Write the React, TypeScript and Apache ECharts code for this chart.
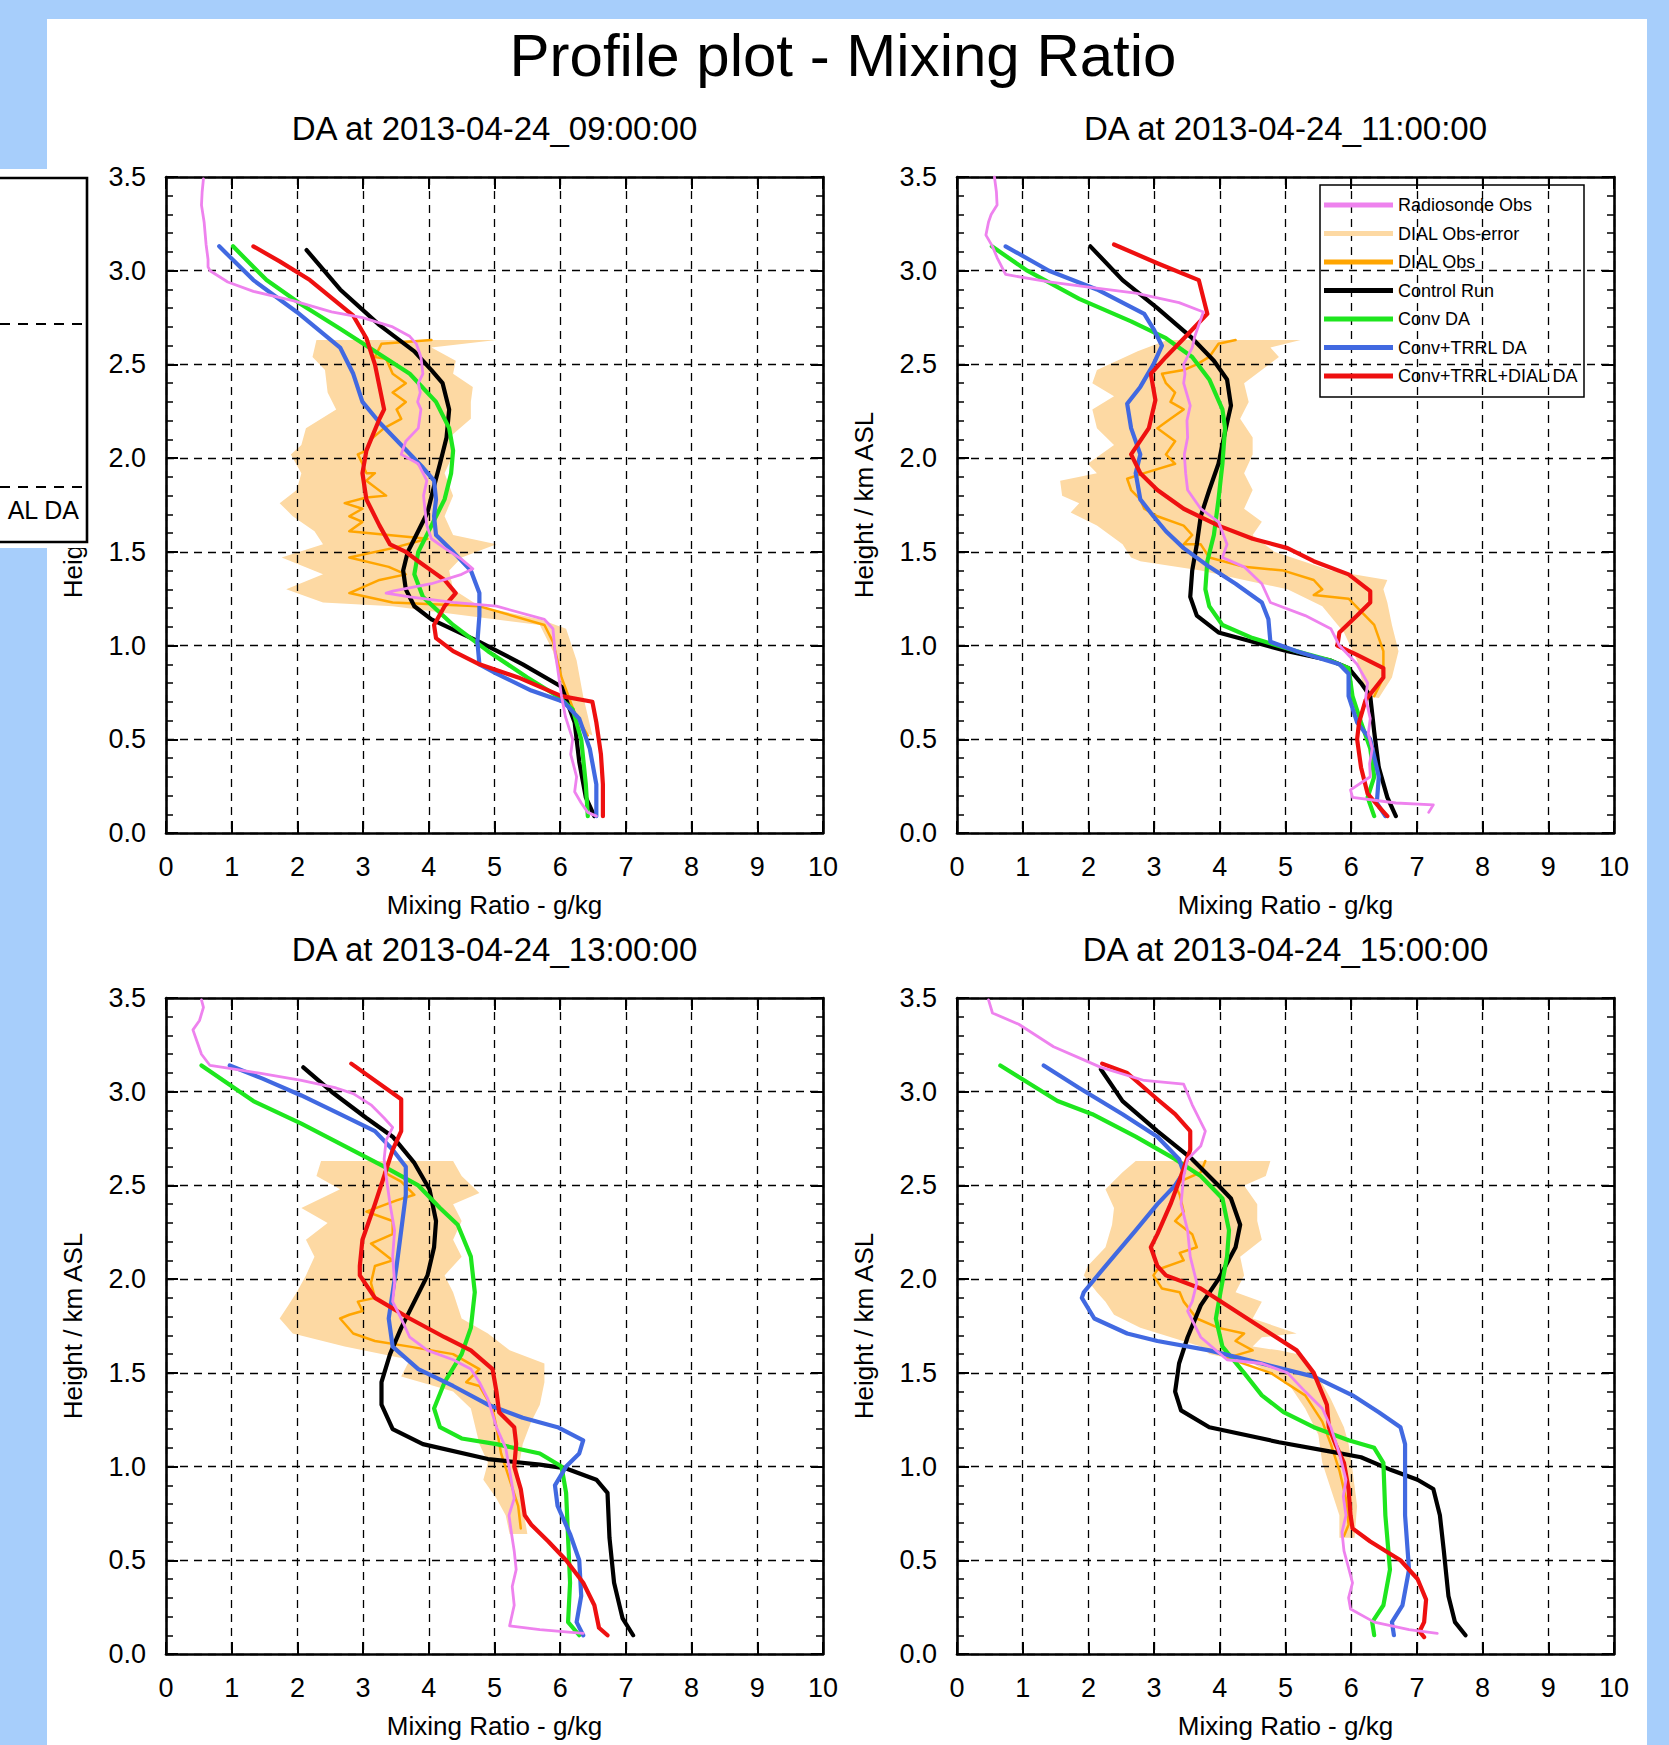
import React, { useEffect, useRef } from "react";
import * as echarts from "echarts";

const FONT = '"Liberation Sans", Arial, Helvetica, sans-serif';

const X_MIN = 0, X_MAX = 10, X_STEP = 1;
const Y_MIN = 0, Y_MAX = 3.5, Y_STEP = 0.5;

const MAIN_TITLE = "Profile plot - Mixing Ratio";
const PANEL_TITLES = [
  "DA at 2013-04-24_09:00:00",
  "DA at 2013-04-24_11:00:00",
  "DA at 2013-04-24_13:00:00",
  "DA at 2013-04-24_15:00:00",
];
const X_NAME = "Mixing Ratio - g/kg";
const Y_NAME = "Height / km ASL";
const LEGEND_NAMES = [
  "Radiosonde Obs",
  "DIAL Obs-error",
  "DIAL Obs",
  "Control Run",
  "Conv DA",
  "Conv+TRRL DA",
  "Conv+TRRL+DIAL DA",
];

// ---------- Panel 1 : 09:00 ----------
const P1_SONDE = [[0.57,3.49],[0.55,3.42],[0.54,3.35],[0.58,3.26],[0.6,3.18],[0.61,3.14],[0.64,3.06],[0.64,3.02],[0.67,3.0],[0.94,2.94],[1.33,2.89],[1.93,2.84],[2.52,2.78],[2.99,2.75],[3.45,2.7],[3.71,2.65],[3.81,2.61],[3.88,2.54],[3.91,2.45],[3.84,2.4],[3.87,2.35],[3.83,2.3],[3.88,2.26],[3.84,2.16],[3.65,2.09],[3.58,2.02],[3.84,1.97],[3.97,1.88],[3.92,1.8],[3.94,1.73],[3.97,1.64],[4.04,1.57],[4.24,1.52],[4.5,1.46],[4.67,1.41],[4.5,1.38],[4.04,1.33],[3.45,1.29],[3.35,1.28],[3.71,1.26],[4.37,1.23],[5.03,1.21],[5.76,1.14],[5.89,1.09],[5.92,0.97],[5.96,0.88],[6.02,0.73],[6.08,0.62],[6.19,0.5],[6.16,0.42],[6.25,0.3],[6.22,0.22],[6.32,0.16],[6.42,0.11],[6.55,0.09]];
const P1_BAND_L = [[2.29,2.63],[2.23,2.54],[2.42,2.47],[2.46,2.35],[2.59,2.26],[2.13,2.16],[2.06,2.07],[1.9,2.02],[2.06,1.92],[1.99,1.83],[1.73,1.76],[1.93,1.69],[2.26,1.61],[2.39,1.54],[1.76,1.47],[2.39,1.38],[1.83,1.3],[2.39,1.23],[3.45,1.21],[5.69,1.11],[5.89,0.97],[6.02,0.78],[6.19,0.66],[6.3,0.55]];
const P1_BAND_R = [[6.49,0.52],[6.35,0.73],[6.25,0.92],[6.09,1.09],[5.69,1.14],[4.77,1.21],[4.37,1.3],[4.31,1.4],[4.5,1.47],[5.03,1.54],[4.37,1.59],[4.24,1.69],[4.37,1.8],[4.24,1.92],[4.37,2.02],[4.31,2.11],[4.64,2.21],[4.64,2.3],[4.67,2.38],[4.37,2.45],[4.41,2.52],[4.04,2.59],[5.03,2.63]];
const P1_DIAL = [[4.04,2.63],[3.28,2.61],[3.18,2.54],[3.35,2.53],[3.45,2.45],[3.65,2.4],[3.45,2.35],[3.65,2.3],[3.51,2.26],[3.58,2.21],[3.32,2.16],[3.12,2.1],[3.05,2.04],[2.92,2.02],[2.99,1.97],[3.05,1.92],[3.18,1.92],[3.05,1.88],[3.35,1.8],[3.05,1.79],[2.72,1.76],[2.99,1.73],[2.79,1.69],[2.99,1.66],[2.79,1.61],[3.98,1.57],[3.45,1.52],[2.79,1.47],[3.39,1.42],[3.65,1.38],[3.25,1.35],[2.79,1.28],[3.45,1.23],[4.77,1.21],[5.76,1.11],[5.89,1.02],[6.02,0.83],[6.22,0.64],[6.42,0.52]];
const P1_CONTROL = [[2.14,3.11],[2.65,2.9],[3.25,2.71],[3.78,2.57],[4.04,2.47],[4.21,2.4],[4.31,2.26],[4.27,2.11],[4.17,1.97],[4.08,1.85],[3.98,1.71],[3.81,1.59],[3.68,1.5],[3.61,1.4],[3.65,1.3],[3.78,1.21],[4.04,1.14],[4.77,1.02],[5.43,0.9],[6.02,0.78],[6.22,0.59],[6.29,0.38],[6.39,0.19],[6.52,0.09]];
const P1_CONV = [[1.02,3.13],[1.53,2.95],[2.06,2.82],[2.65,2.69],[3.18,2.57],[3.71,2.45],[4.11,2.3],[4.31,2.16],[4.37,2.04],[4.34,1.92],[4.24,1.78],[4.04,1.64],[3.84,1.5],[3.78,1.38],[3.91,1.26],[4.37,1.11],[4.9,0.97],[5.5,0.83],[5.96,0.73],[6.19,0.66],[6.32,0.5],[6.39,0.26],[6.42,0.09]];
const P1_TRRL = [[0.81,3.13],[1.33,2.95],[1.99,2.78],[2.65,2.59],[2.85,2.45],[2.99,2.3],[3.25,2.19],[3.58,2.07],[3.91,1.95],[4.08,1.88],[4.11,1.78],[4.08,1.69],[4.11,1.59],[4.37,1.5],[4.64,1.4],[4.77,1.28],[4.77,1.16],[4.74,1.02],[4.77,0.9],[5.03,0.85],[5.56,0.76],[6.05,0.7],[6.29,0.61],[6.45,0.45],[6.55,0.26],[6.55,0.09]];
const P1_FULL = [[1.33,3.13],[1.73,3.05],[2.19,2.95],[2.85,2.76],[3.05,2.64],[3.18,2.5],[3.32,2.26],[3.25,2.21],[3.05,2.04],[2.99,1.92],[3.05,1.78],[3.25,1.64],[3.41,1.54],[3.65,1.5],[3.84,1.45],[4.04,1.4],[4.24,1.35],[4.41,1.28],[4.24,1.21],[4.08,1.11],[4.11,1.04],[4.37,0.97],[4.77,0.9],[5.36,0.83],[6.02,0.73],[6.49,0.7],[6.55,0.59],[6.62,0.42],[6.65,0.26],[6.65,0.09]];

// ---------- Panel 2 : 11:00 ----------
const P2_SONDE = [[0.57,3.5],[0.6,3.42],[0.61,3.35],[0.52,3.3],[0.48,3.26],[0.44,3.19],[0.54,3.13],[0.61,3.07],[0.74,2.98],[1.4,2.94],[2.06,2.91],[2.72,2.88],[3.38,2.83],[3.75,2.78],[3.68,2.71],[3.62,2.65],[3.58,2.59],[3.45,2.5],[3.47,2.45],[3.45,2.4],[3.55,2.28],[3.5,2.2],[3.51,2.11],[3.46,2.02],[3.48,1.92],[3.51,1.83],[3.71,1.73],[3.98,1.66],[4.11,1.54],[4.04,1.47],[4.37,1.42],[4.64,1.33],[4.77,1.23],[5.3,1.16],[5.69,1.09],[5.82,1.0],[6.09,0.9],[6.25,0.8],[6.22,0.72],[6.29,0.61],[6.26,0.53],[6.32,0.45],[6.28,0.37],[6.29,0.3],[5.99,0.23],[6.02,0.19],[6.68,0.16],[7.25,0.15],[7.18,0.11]];
const P2_BAND_L = [[3.2,2.63],[2.75,2.57],[2.13,2.47],[2.06,2.4],[2.39,2.33],[2.06,2.26],[2.13,2.16],[2.39,2.07],[1.99,1.97],[2.13,1.92],[1.57,1.88],[1.6,1.8],[1.86,1.76],[1.73,1.71],[2.13,1.64],[2.52,1.54],[2.65,1.47],[2.79,1.45],[3.71,1.4],[4.37,1.35],[5.03,1.3],[5.56,1.21],[5.89,1.07],[6.09,0.92],[6.22,0.73]];
const P2_BAND_R = [[6.42,0.72],[6.62,0.83],[6.72,0.97],[6.62,1.11],[6.55,1.23],[6.49,1.3],[6.55,1.35],[5.69,1.4],[4.83,1.5],[4.5,1.59],[4.64,1.66],[4.37,1.73],[4.5,1.83],[4.37,1.92],[4.5,2.02],[4.5,2.11],[4.31,2.21],[4.44,2.3],[4.37,2.4],[4.9,2.54],[4.77,2.59],[5.23,2.63]];
const P2_DIAL = [[4.24,2.63],[3.98,2.61],[3.84,2.54],[3.65,2.5],[3.45,2.47],[3.12,2.45],[3.18,2.4],[3.32,2.35],[3.25,2.3],[3.45,2.26],[3.25,2.21],[3.05,2.16],[3.32,2.09],[3.18,2.02],[3.32,1.97],[2.85,1.92],[2.59,1.89],[2.65,1.83],[2.79,1.78],[2.85,1.73],[3.05,1.69],[3.45,1.64],[3.58,1.59],[3.45,1.54],[3.71,1.54],[3.84,1.47],[4.37,1.42],[4.97,1.4],[5.43,1.35],[5.56,1.3],[5.43,1.27],[5.96,1.25],[6.35,1.11],[6.49,0.97],[6.49,0.83],[6.35,0.73]];
const P2_CONTROL = [[2.03,3.13],[2.52,2.95],[3.05,2.8],[3.58,2.64],[3.91,2.52],[4.11,2.42],[4.17,2.28],[4.08,2.14],[3.98,1.97],[3.84,1.83],[3.71,1.69],[3.65,1.54],[3.58,1.4],[3.55,1.26],[3.65,1.16],[3.98,1.07],[4.5,1.02],[5.03,0.97],[5.69,0.92],[5.96,0.88],[6.15,0.8],[6.29,0.73],[6.35,0.54],[6.42,0.35],[6.55,0.19],[6.68,0.09]];
const P2_CONV = [[0.53,3.13],[1.07,3.0],[1.86,2.85],[2.65,2.73],[3.18,2.64],[3.58,2.54],[3.84,2.42],[4.04,2.26],[4.08,2.16],[4.04,1.97],[3.98,1.78],[3.91,1.59],[3.81,1.45],[3.78,1.3],[3.84,1.21],[4.04,1.11],[4.5,1.04],[5.17,0.97],[5.69,0.92],[5.96,0.88],[6.02,0.73],[6.15,0.59],[6.29,0.45],[6.35,0.3],[6.25,0.19],[6.35,0.09]];
const P2_TRRL = [[0.74,3.13],[1.4,3.0],[2.13,2.9],[2.85,2.77],[2.99,2.69],[3.12,2.6],[2.99,2.5],[2.79,2.38],[2.59,2.29],[2.65,2.16],[2.79,2.02],[2.72,1.92],[2.79,1.78],[2.99,1.69],[3.18,1.61],[3.45,1.52],[3.84,1.42],[4.24,1.33],[4.64,1.23],[4.74,1.14],[4.77,1.02],[5.17,0.97],[5.82,0.9],[5.96,0.85],[5.96,0.73],[6.09,0.59],[6.29,0.5],[6.42,0.3],[6.39,0.16],[6.52,0.09]];
const P2_FULL = [[2.39,3.14],[3.05,3.04],[3.68,2.95],[3.81,2.77],[3.51,2.66],[3.18,2.54],[2.95,2.45],[3.02,2.31],[2.92,2.16],[2.65,2.02],[2.79,1.92],[3.05,1.83],[3.45,1.73],[3.98,1.64],[4.5,1.57],[5.03,1.52],[5.43,1.45],[5.96,1.38],[6.29,1.29],[6.29,1.23],[6.09,1.16],[5.82,1.07],[5.79,1.0],[6.09,0.95],[6.49,0.88],[6.49,0.83],[6.22,0.71],[6.12,0.59],[6.09,0.5],[6.15,0.35],[6.25,0.21],[6.42,0.14],[6.55,0.09]];

// ---------- Panel 3 : 13:00 ----------
const P3_SONDE = [[0.54,3.49],[0.57,3.45],[0.51,3.38],[0.41,3.33],[0.48,3.26],[0.54,3.2],[0.67,3.14],[0.87,3.13],[1.4,3.1],[2.06,3.06],[2.59,3.02],[2.85,2.99],[3.12,2.93],[3.32,2.86],[3.45,2.81],[3.35,2.74],[3.32,2.64],[3.35,2.55],[3.41,2.4],[3.48,2.26],[3.45,2.12],[3.48,1.98],[3.45,1.88],[3.58,1.79],[3.71,1.69],[3.98,1.62],[4.37,1.57],[4.64,1.52],[4.77,1.45],[4.9,1.36],[5.03,1.21],[5.17,1.1],[5.23,0.98],[5.3,0.83],[5.22,0.74],[5.26,0.64],[5.3,0.55],[5.33,0.45],[5.27,0.36],[5.3,0.26],[5.23,0.15],[5.69,0.13],[6.35,0.11]];
const P3_BAND_L = [[2.36,2.63],[2.29,2.55],[2.65,2.48],[2.06,2.38],[2.46,2.3],[2.13,2.21],[2.26,2.12],[2.13,2.02],[1.99,1.93],[1.86,1.86],[1.73,1.79],[1.93,1.71],[2.72,1.64],[3.71,1.57],[3.58,1.48],[4.37,1.4],[4.64,1.31],[4.77,1.12],[4.9,1.02],[4.83,0.93],[5.03,0.83],[5.17,0.74],[5.23,0.64]];
const P3_BAND_R = [[5.5,0.64],[5.43,0.79],[5.36,0.98],[5.43,1.12],[5.56,1.24],[5.69,1.33],[5.76,1.45],[5.76,1.55],[5.23,1.62],[4.9,1.71],[4.5,1.79],[4.37,1.93],[4.24,2.02],[4.5,2.12],[4.37,2.21],[4.5,2.31],[4.37,2.4],[4.77,2.46],[4.5,2.55],[4.37,2.63]];
const P3_DIAL = [[3.32,2.57],[3.58,2.52],[3.78,2.45],[3.51,2.42],[3.05,2.36],[3.45,2.31],[3.45,2.24],[3.12,2.19],[3.45,2.1],[3.18,2.07],[3.12,1.98],[3.18,1.9],[2.92,1.88],[2.99,1.83],[2.79,1.81],[2.65,1.79],[2.85,1.71],[3.18,1.67],[3.71,1.64],[4.37,1.6],[4.77,1.52],[4.57,1.45],[4.77,1.43],[4.97,1.31],[5.03,1.21],[5.1,1.07],[5.23,0.93],[5.36,0.79],[5.4,0.67]];
const P3_CONTROL = [[2.09,3.13],[2.52,3.0],[3.05,2.86],[3.45,2.76],[3.78,2.62],[4.01,2.48],[4.11,2.31],[4.08,2.17],[3.98,2.02],[3.78,1.88],[3.58,1.74],[3.41,1.6],[3.28,1.45],[3.28,1.33],[3.45,1.2],[3.91,1.12],[4.9,1.04],[5.69,1.01],[6.09,0.99],[6.55,0.93],[6.72,0.86],[6.75,0.62],[6.82,0.38],[6.95,0.19],[7.11,0.1]];
const P3_CONV = [[0.54,3.14],[1.33,2.95],[2.06,2.83],[2.72,2.71],[3.32,2.6],[3.84,2.5],[4.17,2.38],[4.44,2.29],[4.64,2.12],[4.7,1.93],[4.64,1.74],[4.5,1.6],[4.24,1.45],[4.08,1.31],[4.17,1.21],[4.5,1.15],[5.03,1.12],[5.69,1.07],[6.02,1.0],[6.09,0.86],[6.12,0.62],[6.15,0.38],[6.12,0.17],[6.29,0.1]];
const P3_TRRL = [[0.97,3.14],[1.47,3.07],[2.06,2.98],[2.65,2.88],[3.18,2.79],[3.45,2.69],[3.65,2.6],[3.65,2.45],[3.58,2.26],[3.51,2.07],[3.45,1.93],[3.39,1.79],[3.45,1.64],[3.84,1.52],[4.37,1.43],[4.9,1.33],[5.43,1.26],[5.96,1.21],[6.35,1.14],[6.29,1.07],[6.09,1.0],[5.92,0.9],[5.96,0.79],[6.15,0.64],[6.29,0.5],[6.32,0.31],[6.25,0.17],[6.35,0.1]];
const P3_FULL = [[2.82,3.15],[3.58,2.96],[3.58,2.79],[3.45,2.69],[3.32,2.55],[3.18,2.4],[2.99,2.21],[2.95,2.07],[2.95,2.02],[3.18,1.9],[3.71,1.79],[4.24,1.69],[4.64,1.62],[4.97,1.52],[5.03,1.4],[5.07,1.29],[5.3,1.21],[5.33,1.12],[5.3,1.0],[5.4,0.88],[5.46,0.74],[5.56,0.69],[5.82,0.6],[6.09,0.5],[6.35,0.38],[6.52,0.26],[6.59,0.14],[6.72,0.1]];

// ---------- Panel 4 : 15:00 ----------
const P4_SONDE = [[0.48,3.49],[0.54,3.42],[0.94,3.36],[1.47,3.24],[1.93,3.17],[2.19,3.13],[2.85,3.06],[3.45,3.04],[3.51,2.99],[3.58,2.93],[3.78,2.79],[3.71,2.71],[3.51,2.64],[3.45,2.55],[3.41,2.4],[3.51,2.26],[3.55,2.12],[3.65,1.98],[3.58,1.88],[3.51,1.83],[3.71,1.69],[4.11,1.57],[4.64,1.55],[5.03,1.5],[5.3,1.4],[5.56,1.31],[5.69,1.21],[5.82,1.07],[5.92,0.93],[5.88,0.84],[5.92,0.74],[5.86,0.65],[5.89,0.55],[5.96,0.46],[6.02,0.38],[5.96,0.3],[5.99,0.24],[6.35,0.17],[6.88,0.13],[7.31,0.11]];
const P4_BAND_L = [[2.72,2.63],[2.52,2.57],[2.26,2.48],[2.39,2.38],[2.36,2.29],[2.26,2.17],[1.99,2.07],[1.93,2.02],[2.13,1.93],[2.26,1.88],[2.39,1.81],[2.79,1.74],[3.71,1.64],[3.84,1.6],[4.5,1.55],[5.03,1.45],[5.3,1.31],[5.5,1.17],[5.56,1.02],[5.69,0.88],[5.82,0.74],[5.82,0.62]];
const P4_BAND_R = [[6.05,0.62],[6.09,0.79],[6.02,0.98],[5.96,1.12],[5.89,1.21],[5.69,1.36],[5.5,1.48],[5.17,1.6],[4.9,1.62],[4.5,1.64],[4.64,1.69],[5.17,1.71],[4.5,1.79],[4.64,1.88],[4.24,1.93],[4.37,2.02],[4.31,2.12],[4.64,2.21],[4.57,2.31],[4.57,2.4],[4.37,2.5],[4.7,2.55],[4.77,2.63]];
const P4_DIAL = [[3.78,2.63],[3.71,2.57],[3.45,2.53],[3.32,2.5],[3.39,2.45],[3.45,2.36],[3.32,2.31],[3.58,2.24],[3.65,2.17],[3.39,2.14],[3.45,2.1],[3.05,2.05],[2.99,2.02],[3.12,1.95],[3.39,1.93],[3.45,1.88],[3.65,1.79],[3.98,1.74],[4.37,1.71],[4.24,1.67],[4.5,1.62],[4.11,1.58],[4.77,1.5],[5.3,1.38],[5.56,1.24],[5.69,1.12],[5.82,0.98],[5.92,0.83],[5.96,0.69],[5.89,0.63]];
const P4_CONTROL = [[2.19,3.12],[2.52,2.95],[3.05,2.79],[3.58,2.64],[3.98,2.5],[4.17,2.43],[4.31,2.29],[4.24,2.17],[3.98,2.0],[3.71,1.86],[3.51,1.69],[3.38,1.55],[3.32,1.4],[3.41,1.3],[3.84,1.21],[4.9,1.13],[5.69,1.08],[6.15,1.05],[6.62,0.98],[7.01,0.93],[7.25,0.88],[7.35,0.74],[7.41,0.55],[7.48,0.31],[7.58,0.17],[7.74,0.1]];
const P4_CONV = [[0.66,3.14],[1.07,3.05],[1.53,2.95],[2.06,2.88],[2.72,2.76],[3.32,2.64],[3.71,2.55],[4.04,2.43],[4.14,2.26],[4.11,2.12],[4.01,1.93],[3.94,1.79],[4.04,1.64],[4.37,1.5],[4.64,1.38],[4.97,1.29],[5.43,1.21],[5.96,1.14],[6.35,1.1],[6.49,1.02],[6.52,0.74],[6.59,0.45],[6.49,0.26],[6.32,0.17],[6.35,0.1]];
const P4_TRRL = [[1.32,3.14],[1.86,3.02],[2.52,2.88],[3.05,2.76],[3.38,2.64],[3.45,2.57],[3.32,2.5],[3.05,2.4],[2.72,2.26],[2.26,2.07],[1.93,1.93],[1.9,1.9],[2.09,1.79],[2.59,1.71],[3.05,1.67],[3.84,1.62],[4.64,1.55],[5.43,1.48],[6.02,1.38],[6.42,1.29],[6.75,1.21],[6.82,1.12],[6.82,0.74],[6.88,0.45],[6.78,0.26],[6.62,0.17],[6.65,0.1]];
const P4_FULL = [[2.21,3.15],[2.59,3.1],[3.05,2.96],[3.32,2.88],[3.55,2.79],[3.55,2.69],[3.41,2.55],[3.25,2.4],[3.05,2.24],[2.95,2.17],[3.05,2.07],[3.18,2.02],[3.71,1.95],[4.24,1.83],[4.77,1.71],[5.17,1.62],[5.43,1.5],[5.63,1.33],[5.66,1.21],[5.76,1.12],[5.89,1.02],[5.96,0.88],[5.99,0.74],[6.02,0.67],[6.29,0.6],[6.75,0.5],[7.01,0.4],[7.14,0.29],[7.11,0.17],[7.04,0.12],[7.11,0.09]];

const PANELS = [
  { sonde: P1_SONDE, bandL: P1_BAND_L, bandR: P1_BAND_R, dial: P1_DIAL, control: P1_CONTROL, conv: P1_CONV, trrl: P1_TRRL, full: P1_FULL },
  { sonde: P2_SONDE, bandL: P2_BAND_L, bandR: P2_BAND_R, dial: P2_DIAL, control: P2_CONTROL, conv: P2_CONV, trrl: P2_TRRL, full: P2_FULL },
  { sonde: P3_SONDE, bandL: P3_BAND_L, bandR: P3_BAND_R, dial: P3_DIAL, control: P3_CONTROL, conv: P3_CONV, trrl: P3_TRRL, full: P3_FULL },
  { sonde: P4_SONDE, bandL: P4_BAND_L, bandR: P4_BAND_R, dial: P4_DIAL, control: P4_CONTROL, conv: P4_CONV, trrl: P4_TRRL, full: P4_FULL },
];

// ---------- layout / style ----------
const W = 1669, H = 1745;
const GRID_POS = [
  { left: 166, top: 177 },
  { left: 957, top: 177 },
  { left: 166, top: 998 },
  { left: 957, top: 998 },
];
const GRID_W = 657, GRID_H = 656;

const C_SONDE = "#ee82ee";
const C_BAND = "#fdd9a3";
const C_DIAL = "#ffa500";
const C_CONTROL = "#000000";
const C_CONV = "#1ee61e";
const C_TRRL = "#4169e1";
const C_FULL = "#ee1010";

const BLUE_BG = "#a7cefb";

function buildOption() {
  const grid = GRID_POS.map((g) => ({ left: g.left, top: g.top, width: GRID_W, height: GRID_H, containLabel: false }));

  const axisLine = { show: true, onZero: false, lineStyle: { color: "#000", width: 2.6 } };
  const tick = { show: true, inside: true, length: 12, lineStyle: { color: "#000", width: 2 } };
  const split = { show: true, lineStyle: { color: "#000", width: 1.3, type: [8, 6] } };

  const xAxis: any[] = [];
  const yAxis: any[] = [];
  GRID_POS.forEach((_, i) => {
    xAxis.push({
      gridIndex: i, type: "value", position: "bottom", min: X_MIN, max: X_MAX, interval: X_STEP,
      axisLine, axisTick: tick, splitLine: split,
      axisLabel: { show: true, color: "#000", fontSize: 27, fontFamily: FONT, margin: 20 },
      name: X_NAME, nameLocation: "middle", nameGap: 59,
      nameTextStyle: { color: "#000", fontSize: 26, fontFamily: FONT },
    });
    xAxis.push({
      gridIndex: i, type: "value", position: "top", min: X_MIN, max: X_MAX, interval: X_STEP,
      axisLine, axisTick: tick, splitLine: { show: false }, axisLabel: { show: false },
    });
    yAxis.push({
      gridIndex: i, type: "value", position: "left", min: Y_MIN, max: Y_MAX, interval: Y_STEP,
      axisLine, axisTick: tick, splitLine: split,
      minorTick: { show: true, splitNumber: 5, length: 7, lineStyle: { color: "#000", width: 1.5 } },
      axisLabel: { show: true, color: "#000", fontSize: 27, fontFamily: FONT, margin: 20, formatter: (v: number) => v.toFixed(1) },
      name: Y_NAME, nameLocation: "middle", nameGap: 80, nameRotate: 90,
      nameTextStyle: { color: "#000", fontSize: 26, fontFamily: FONT },
    });
    yAxis.push({
      gridIndex: i, type: "value", position: "right", min: Y_MIN, max: Y_MAX, interval: Y_STEP,
      axisLine, axisTick: tick, splitLine: { show: false }, axisLabel: { show: false },
      minorTick: { show: true, splitNumber: 5, length: 7, lineStyle: { color: "#000", width: 1.5 } },
    });
  });

  const series: any[] = [];
  PANELS.forEach((p, i) => {
    const band = p.bandL.concat(p.bandR);
    series.push({
      type: "custom",
      name: "DIAL Obs-error",
      xAxisIndex: 2 * i,
      yAxisIndex: 2 * i,
      z: -1,
      silent: true,
      data: band,
      encode: { x: 0, y: 1 },
      itemStyle: { color: C_BAND },
      renderItem: (params: any, api: any) => {
        if (params.dataIndex !== 0) return null;
        const pts = band.map((pt) => api.coord(pt));
        return { type: "polygon", shape: { points: pts }, style: { fill: C_BAND, stroke: null } };
      },
    });
    const line = (name: string, data: number[][], color: string, width: number, z: number) => ({
      type: "line",
      name,
      data,
      xAxisIndex: 2 * i,
      yAxisIndex: 2 * i,
      symbol: "none",
      showSymbol: false,
      silent: true,
      clip: true,
      z,
      lineStyle: { color, width, join: "round", cap: "round" },
      itemStyle: { color },
    });
    series.push(line("DIAL Obs", p.dial, C_DIAL, 2.5, 3));
    series.push(line("Control Run", p.control, C_CONTROL, 4.2, 4));
    series.push(line("Conv DA", p.conv, C_CONV, 4.2, 5));
    series.push(line("Conv+TRRL DA", p.trrl, C_TRRL, 4.2, 6));
    series.push(line("Conv+TRRL+DIAL DA", p.full, C_FULL, 4.2, 7));
    series.push(line("Radiosonde Obs", p.sonde, C_SONDE, 2.8, 8));
  });

  const txt = (text: string, x: number, y: number, size: number, align = "center", z = 10) => ({
    type: "text",
    z,
    silent: true,
    style: {
      text, x, y, fill: "#000", fontSize: size, fontFamily: FONT,
      align, verticalAlign: "middle", textAlign: align, textVerticalAlign: "middle",
    },
  });

  const panelCenters = GRID_POS.map((g) => g.left + GRID_W / 2);
  const subtitleY = [128, 128, 949, 949];

  const graphic: any[] = [
    { type: "rect", z: -20, silent: true, shape: { x: 47, y: 19, width: 1600, height: H - 19 }, style: { fill: "#fff" } },
    txt(MAIN_TITLE, 843, 55, 60),
    ...PANEL_TITLES.map((t, i) => txt(t, panelCenters[i], subtitleY[i], 33)),
    // legend frame
    { type: "rect", z: 20, silent: true, shape: { x: 1320, y: 185, width: 264, height: 212 }, style: { fill: "none", stroke: "#000", lineWidth: 1.5 } },
    // overlapping fragment of another figure at the left edge
    { type: "rect", z: 100, silent: true, shape: { x: 0, y: 169, width: 89, height: 379 }, style: { fill: "#fff" } },
    { type: "rect", z: 101, silent: true, shape: { x: -4, y: 178, width: 91, height: 364 }, style: { fill: "none", stroke: "#000", lineWidth: 2.6 } },
    { type: "line", z: 101, silent: true, shape: { x1: 0, y1: 324, x2: 87, y2: 324 }, style: { stroke: "#000", lineWidth: 2, lineDash: [10, 8] } },
    { type: "line", z: 101, silent: true, shape: { x1: 0, y1: 487, x2: 87, y2: 487 }, style: { stroke: "#000", lineWidth: 2, lineDash: [10, 8] } },
    txt("AL DA", 79, 510, 25, "right", 102),
  ];

  return {
    animation: false,
    backgroundColor: BLUE_BG,
    grid,
    xAxis,
    yAxis,
    series,
    graphic,
    legend: {
      show: true,
      data: LEGEND_NAMES,
      orient: "vertical",
      left: 1324,
      top: 194,
      padding: 0,
      icon: "rect",
      itemWidth: 69,
      itemHeight: 5,
      itemGap: 6.5,
      selectedMode: false,
      textStyle: { color: "#000", fontSize: 18, fontFamily: FONT, lineHeight: 22 },
    },
  };
}

export default function App() {
  const ref = useRef<HTMLDivElement>(null);
  useEffect(() => {
    if (!ref.current) return;
    const chart = echarts.init(ref.current, null, { renderer: "svg" });
    chart.setOption(buildOption() as any);
    return () => chart.dispose();
  }, []);
  return (
    <div
      ref={ref}
      style={{ position: "absolute", left: 0, top: 0, width: W + "px", height: H + "px" }}
    />
  );
}
